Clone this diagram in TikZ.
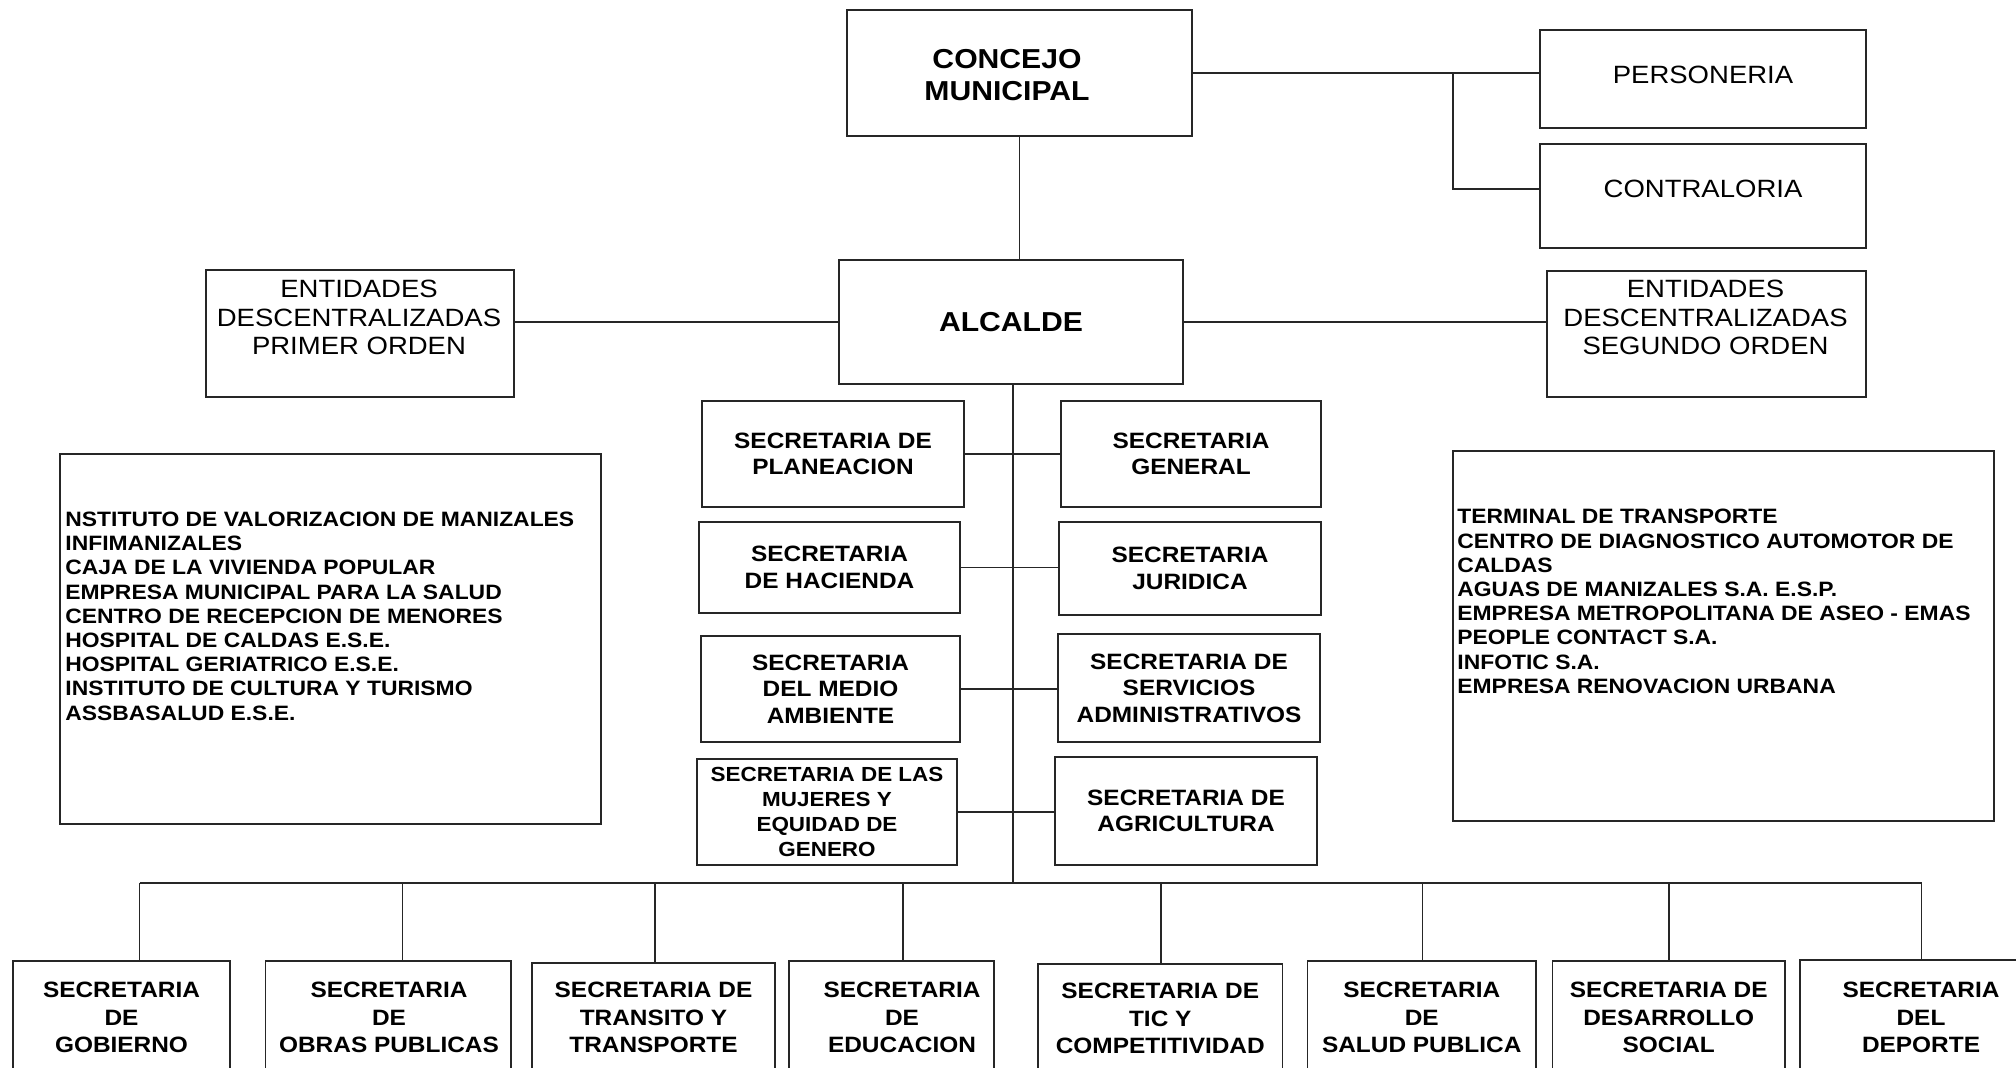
\documentclass[tikz,border=0pt]{standalone}
\usepackage{fontspec}
\setmainfont{Liberation Sans}[FakeStretch=1.1]
\begin{document}
\begin{tikzpicture}[x=0.5pt,y=-0.5pt,
  bx/.style={draw=black!85, line width=0.9pt, inner sep=0pt, align=center, fill=white},
  sz/.style 2 args={minimum width=#1*0.5pt, minimum height=#2*0.5pt},
  ln/.style={draw=black!85, line width=0.8pt},
  tx/.style={inner sep=0pt, align=center, anchor=north},
  fHead/.style={font=\fontsize{13.7}{16.3}\selectfont\bfseries},
  fEnt/.style={font=\fontsize{12.5}{14.2}\selectfont},
  fSec/.style={font=\fontsize{11.1}{13.3}\selectfont\bfseries},
  fBot/.style={font=\fontsize{11.1}{13.75}\selectfont\bfseries},
  fMuj/.style={font=\fontsize{10.2}{12.35}\selectfont\bfseries},
  fList/.style={font=\fontsize{10.4}{12.1}\selectfont\bfseries, inner sep=0pt, align=left, anchor=north west}
]
\useasboundingbox (0,0) rectangle (2016,1067);
\clip (0,0) rectangle (2016,1067);

% top level
\node[bx,sz={345}{126}] (conc) at (1019.5,73) {};
\node[tx,fHead] (conct) at (1007,48.5) {CONCEJO\\MUNICIPAL};
\node[bx,sz={344}{124},fHead] (alc) at (1011,322) {ALCALDE};

\node[bx,sz={326}{98}] (pers) at (1703,79) {};
\node[tx,fEnt] (perst) at (1703,65.7) {PERSONERIA};
\node[bx,sz={326}{104}] (cont) at (1703,196) {};
\node[tx,fEnt] (contt) at (1703,180) {CONTRALORIA};

\node[bx,sz={308}{127}] (ent1) at (360,333.5) {};
\node[tx,fEnt] (ent1t) at (359,280) {ENTIDADES\\DESCENTRALIZADAS\\PRIMER ORDEN};
\node[bx,sz={319}{126}] (ent2) at (1706.5,334) {};
\node[tx,fEnt] (ent2t) at (1705.5,280) {ENTIDADES\\DESCENTRALIZADAS\\SEGUNDO ORDEN};

% lists
\node[bx,sz={541}{370}] (listL) at (330.5,639) {};
\node[fList] (listLt) at (65,511.5) {NSTITUTO DE VALORIZACION DE MANIZALES\\INFIMANIZALES\\CAJA DE LA VIVIENDA POPULAR\\EMPRESA MUNICIPAL PARA LA SALUD\\CENTRO DE RECEPCION DE MENORES\\HOSPITAL DE CALDAS E.S.E.\\HOSPITAL GERIATRICO E.S.E.\\INSTITUTO DE CULTURA Y TURISMO\\ASSBASALUD E.S.E.};
\node[bx,sz={541}{370}] (listR) at (1723.5,636) {};
\node[fList] (listRt) at (1457,509) {TERMINAL DE TRANSPORTE\\CENTRO DE DIAGNOSTICO AUTOMOTOR DE\\CALDAS\\AGUAS DE MANIZALES S.A. E.S.P.\\EMPRESA METROPOLITANA DE ASEO - EMAS\\PEOPLE CONTACT S.A.\\INFOTIC S.A.\\EMPRESA RENOVACION URBANA};

% middle secretaries
\node[bx,sz={262}{106},fSec] (plan) at (833,454) {SECRETARIA DE\\PLANEACION};
\node[bx,sz={261}{91},fSec] (hac) at (829.5,567.5) {SECRETARIA\\DE HACIENDA};
\node[bx,sz={259}{106},fSec] (med) at (830.5,689) {SECRETARIA\\DEL MEDIO\\AMBIENTE};
\node[bx,sz={259.5}{106},fMuj] (muj) at (827,812) {SECRETARIA DE LAS\\MUJERES Y\\EQUIDAD DE\\GENERO};
\node[bx,sz={260}{106},fSec] (gen) at (1191,454) {SECRETARIA\\GENERAL};
\node[bx,sz={262}{93},fSec] (jur) at (1190,568.5) {SECRETARIA\\JURIDICA};
\node[bx,sz={262}{108},fSec] (serv) at (1189,688) {SECRETARIA DE\\SERVICIOS\\ADMINISTRATIVOS};
\node[bx,sz={262}{108},fSec] (agr) at (1186,811) {SECRETARIA DE\\AGRICULTURA};

% bottom secretaries
\node[bx,sz={217}{160},anchor=north] (gob) at (121.5,960) {};
\node[tx,fBot] (gobt) at (121.5,982) {SECRETARIA\\DE\\GOBIERNO};
\node[bx,sz={245.5}{160},anchor=north] (obr) at (388.25,960) {};
\node[tx,fBot] (obrt) at (389,982) {SECRETARIA\\DE\\OBRAS PUBLICAS};
\node[bx,sz={243}{160},anchor=north] (tra) at (653.5,962) {};
\node[tx,fBot] (trat) at (653.5,982) {SECRETARIA DE\\TRANSITO Y\\TRANSPORTE};
\node[bx,sz={205}{160},anchor=north] (edu) at (891.5,960) {};
\node[tx,fBot] (edut) at (902,982) {SECRETARIA\\DE\\EDUCACION};
\node[bx,sz={244.5}{160},anchor=north] (tic) at (1160.25,963) {};
\node[tx,fBot] (tict) at (1160.25,983) {SECRETARIA DE\\TIC Y\\COMPETITIVIDAD};
\node[bx,sz={228.5}{160},anchor=north] (sal) at (1421.75,960) {};
\node[tx,fBot] (salt) at (1421.75,982) {SECRETARIA\\DE\\SALUD PUBLICA};
\node[bx,sz={232.5}{160},anchor=north] (des) at (1668.75,960) {};
\node[tx,fBot] (dest) at (1668.75,982) {SECRETARIA DE\\DESARROLLO\\SOCIAL};
\node[bx,sz={242}{160},anchor=north] (dep) at (1921,959) {};
\node[tx,fBot] (dept) at (1921,982) {SECRETARIA\\DEL\\DEPORTE};

% connectors: top
\draw[ln] (conc.south) -- (conc.south |- alc.north);
\coordinate (br) at (1453,73.7);
\coordinate (brb) at (1453,189);
\draw[ln] (conc.east) -- (conc.east -| pers.west);
\draw[ln] (br) -- (brb) -- (brb -| cont.west);
\draw[ln] (alc.west -| ent1.east) -- (alc.west);
\draw[ln] (alc.east) -- (alc.east -| ent2.west);

% trunk and middle
\coordinate (trk) at (1013,883);
\draw[ln] (alc.south -| trk) -- (trk);
\draw[ln] (plan.east) -- (plan.east -| gen.west);
\draw[ln] (hac.east) -- (hac.east -| jur.west);
\draw[ln] (med.east) -- (med.east -| serv.west);
\draw[ln] (muj.east) -- (muj.east -| agr.west);

% bus
\coordinate (b1) at (139.5,883);
\coordinate (b2) at (402.4,883);
\coordinate (b3) at (655,883);
\coordinate (b4) at (903.2,883);
\coordinate (b5) at (1161,883);
\coordinate (b6) at (1422.6,883);
\coordinate (b7) at (1668.8,883);
\coordinate (b8) at (1921.5,883);
\draw[ln] (b1) -- (b8);
\draw[ln] (b1) -- (b1 |- gob.north);
\draw[ln] (b2) -- (b2 |- obr.north);
\draw[ln] (b3) -- (b3 |- tra.north);
\draw[ln] (b4) -- (b4 |- edu.north);
\draw[ln] (b5) -- (b5 |- tic.north);
\draw[ln] (b6) -- (b6 |- sal.north);
\draw[ln] (b7) -- (b7 |- des.north);
\draw[ln] (b8) -- (b8 |- dep.north);
\end{tikzpicture}
\end{document}
